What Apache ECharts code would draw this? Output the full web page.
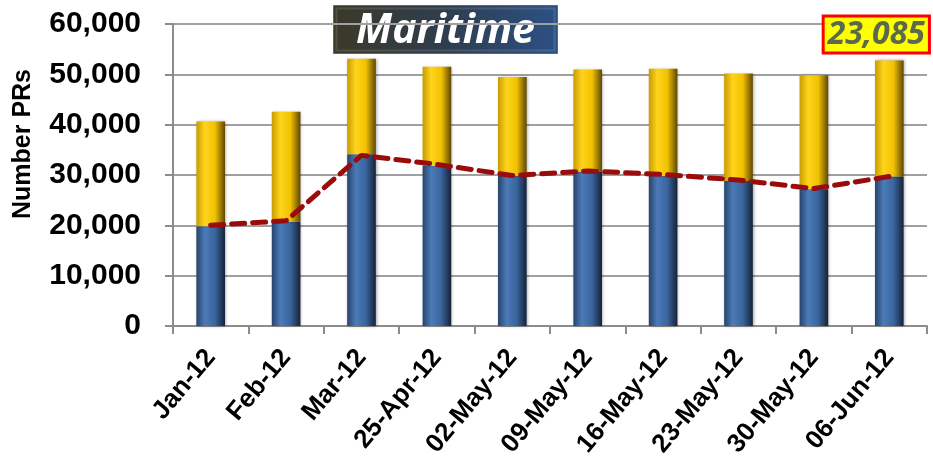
<!DOCTYPE html>
<html>
<head>
<meta charset="utf-8">
<script src="https://cdn.jsdelivr.net/npm/echarts@6/dist/echarts.min.js"></script>
<style>html,body{margin:0;padding:0;background:#fff}#c{width:933px;height:465px}</style>
</head>
<body>
<div id="c"></div>
<script>
var categories = ['Jan-12','Feb-12','Mar-12','25-Apr-12','02-May-12','09-May-12','16-May-12','23-May-12','30-May-12','06-Jun-12'];
var blueValues = [19800, 20700, 34100, 31800, 29800, 30650, 29800, 28800, 27150, 29680];
var yellowValues = [20850, 21850, 19000, 19700, 19650, 20300, 21300, 21350, 22650, 23085];
var lineValues = [20000, 20900, 33900, 32100, 29900, 30800, 30100, 29000, 27300, 29700];
var yTicks = [0, 10000, 20000, 30000, 40000, 50000, 60000];
var titleText = 'Maritime';
var yName = 'Number PRs';

var chart = echarts.init(document.getElementById('c'), null, {renderer: 'canvas'});
function grad(stops) {
  return new echarts.graphic.LinearGradient(0, 0, 1, 0, stops);
}
var blueGrad = grad([
  {offset: 0, color: '#27436b'},
  {offset: 0.3, color: '#4b7bb8'},
  {offset: 0.65, color: '#3a649c'},
  {offset: 1, color: '#152238'}
]);
var yellowGrad = grad([
  {offset: 0, color: '#c99b00'},
  {offset: 0.3, color: '#ffd41c'},
  {offset: 0.65, color: '#f2c200'},
  {offset: 1, color: '#5e4700'}
]);
var lastIdx = yellowValues.length - 1;
var yellowData = yellowValues.map(function (v, i) {
  if (i !== lastIdx) return v;
  return {
    value: v,
    label: {
      show: true,
      position: 'top',
      offset: [-13, -4],
      formatter: function (p) { return p.value.toLocaleString('en-US'); },
      fontFamily: 'Open Sans',
      fontStyle: 'italic',
      fontWeight: 'bold',
      fontSize: 32,
      color: '#5a6a4a',
      backgroundColor: '#ffff00',
      borderColor: '#ff0000',
      borderWidth: 3,
      padding: [0, 3, 0, 3],
      lineHeight: 34
    }
  };
});

chart.setOption({
  animation: false,
  grid: {left: 173, right: 6, top: 24, bottom: 139, containLabel: false, outerBoundsMode: 'none'},
  xAxis: {
    type: 'category',
    data: categories,
    boundaryGap: true,
    axisLine: {lineStyle: {color: '#8c8c8c', width: 2}},
    axisTick: {show: true, length: 8, lineStyle: {color: '#8c8c8c', width: 2}},
    axisLabel: {
      rotate: 50, interval: 0, margin: 27,
      fontFamily: 'Liberation Sans', fontWeight: 'bold', fontSize: 26, color: '#000'
    }
  },
  yAxis: {
    type: 'value',
    min: yTicks[0], max: yTicks[yTicks.length - 1], interval: 10000,
    name: yName,
    nameLocation: 'middle',
    nameGap: 137,
    nameRotate: 90,
    nameTextStyle: {fontFamily: 'Liberation Sans', fontWeight: 'bold', fontSize: 25, color: '#000', padding: [0, 0, 0, 62]},
    axisLine: {show: true, lineStyle: {color: '#8c8c8c', width: 2}},
    axisTick: {show: true, length: 8, lineStyle: {color: '#8c8c8c', width: 2}},
    splitLine: {show: true, lineStyle: {color: '#a0a0a0', width: 2}},
    axisLabel: {
      margin: 32,
      fontFamily: 'Liberation Sans', fontWeight: 'bold', fontSize: 30, color: '#000',
      formatter: function (v) { return v.toLocaleString('en-US'); }
    }
  },
  series: [
    {
      type: 'bar', stack: 'total', data: blueValues, barWidth: '38%',
      itemStyle: {color: blueGrad, shadowColor: 'rgba(0,0,0,0.35)', shadowBlur: 3, shadowOffsetX: 1}
    },
    {
      type: 'bar', stack: 'total', data: yellowData, barWidth: '38%',
      itemStyle: {color: yellowGrad, shadowColor: 'rgba(0,0,0,0.35)', shadowBlur: 3, shadowOffsetX: 1}
    },
    {
      type: 'line', data: lineValues, symbol: 'none', z: 5,
      lineStyle: {color: '#9a0b0b', width: 5, type: [13, 8], cap: 'round'}
    }
  ],
  graphic: [
    {
      type: 'group', left: 333, top: 5,
      children: [
        {
          type: 'rect', shape: {x: 0, y: 0, width: 224, height: 48},
          style: {
            fill: new echarts.graphic.LinearGradient(0, 0, 1, 0, [
              {offset: 0, color: '#3b3a28'},
              {offset: 0.5, color: '#2f3d4e'},
              {offset: 1, color: '#2c5185'}
            ]),
            stroke: '#666', lineWidth: 1
          }
        },
        {
          type: 'rect', shape: {x: 3, y: 3, width: 218, height: 42},
          style: {fill: 'none', stroke: 'rgba(255,255,255,0.12)', lineWidth: 2}
        },
        {
          type: 'text', x: 112, y: 26,
          style: {
            text: titleText, fill: '#ffffff', align: 'center', verticalAlign: 'middle',
            font: 'italic bold 41px "Open Sans"'
          }
        }
      ]
    }
  ]
});
</script>
</body>
</html>
